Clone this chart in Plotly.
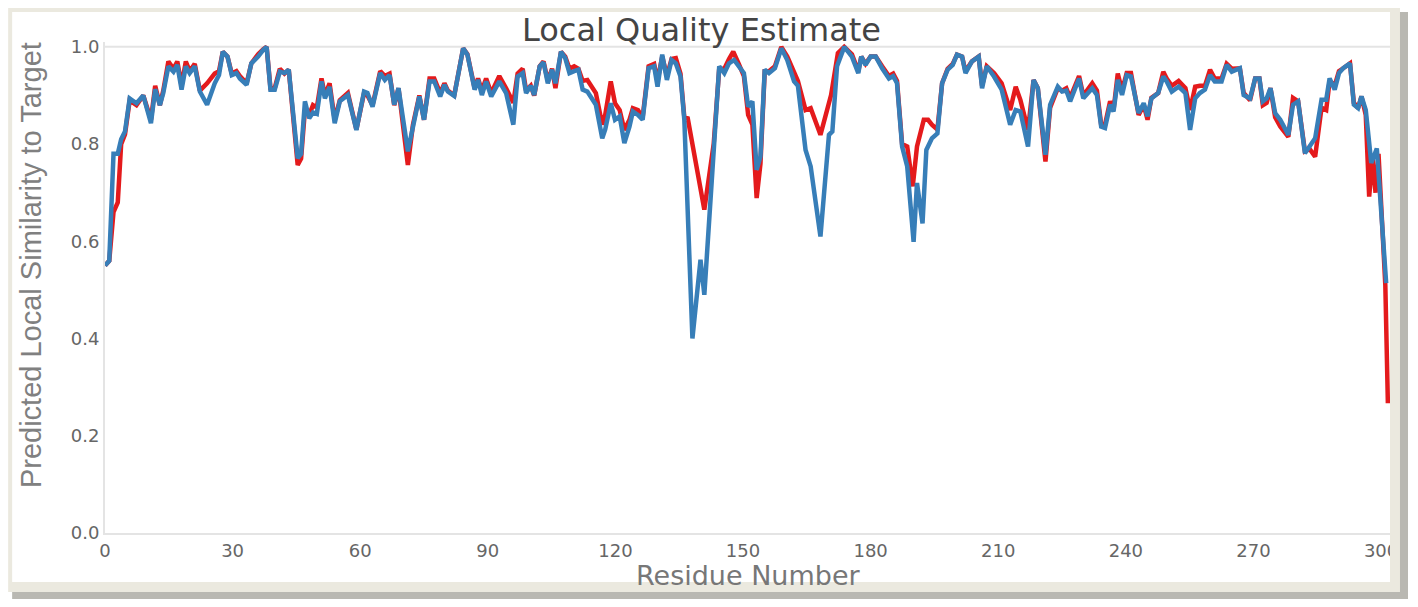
import plotly.graph_objects as go

# residue numbers / predicted local similarity
blue_res = [0, 1, 2, 3, 3.8, 4.7, 5.8, 7.4, 9.0, 10.8, 11.8, 12.9, 13.7, 14.9, 16.1, 17.0, 18.0, 19.0, 19.9, 21.1,
            22.3, 24.0, 25.8, 26.8, 27.7, 28.8, 29.8, 30.9, 31.7, 33.3, 34.4, 36.0, 37.2, 38.0, 38.9, 39.9, 41.1,
            42.2, 43.2, 45.3, 46.1, 47.0, 48.0, 48.9, 49.8, 50.9, 51.7, 52.8, 54.0, 55.2, 57.1, 59.1, 60.9, 61.7,
            62.9, 64.7, 65.8, 66.9, 68.0, 69.0, 71.2, 72.4, 73.9, 75.0, 76.3, 77.4, 78.8, 79.8, 80.6, 82.1, 84.2,
            85.2, 86.9, 87.7, 88.6, 89.6, 90.8, 92.7, 94.3, 96.0, 97.0, 98.2, 99.0, 100.1, 100.9, 102.2, 103.1,
            104.1, 105.1, 105.9, 107.2, 108.2, 109.2, 110.3, 111.3, 112.3, 113.4, 115.4, 116.9, 117.6, 118.9,
            119.9, 121.0, 122.1, 123.3, 124.1, 125.3, 126.4, 127.8, 129.1, 129.9, 131.0, 132.1, 133.2, 134.2,
            135.3, 136.2, 138.1, 140.0, 140.9, 144.4, 145.6, 146.7, 147.9, 149.0, 150.2, 151.2, 152.2, 153.2,
            154.1, 155.1, 156.1, 157.5, 159.0, 160.4, 162.0, 162.9, 164.7, 165.9, 168.2, 170.2, 171.0, 172.1,
            173.8, 175.6, 177.1, 177.8, 178.8, 180.0, 181.2, 182.7, 184.3, 185.3, 186.2, 187.4, 188.6, 190.1,
            190.9, 192.2, 193.1, 194.4, 195.7, 196.8, 198.1, 199.3, 200.3, 201.5, 202.3, 203.8, 205.4, 206.2,
            207.3, 209.0, 210.8, 212.8, 214.1, 215.2, 217.0, 218.3, 219.3, 221.1, 222.2, 224.0, 225.0, 226.0,
            226.9, 229.0, 230.0, 232.1, 233.2, 234.2, 235.1, 236.3, 237.1, 238.1, 239.1, 240.2, 241.2, 243.0,
            244.2, 245.1, 246.0, 247.6, 248.8, 249.6, 250.8, 252.4, 254.0, 255.1, 256.3, 257.4, 258.6, 259.8,
            260.9, 262.5, 263.7, 264.9, 266.8, 267.7, 269.2, 270.4, 271.4, 272.2, 273.1, 274.0, 275.1, 276.3,
            278.2, 279.3, 280.5, 282.1, 283.2, 284.5, 286.0, 287.1, 287.9, 289.1, 290.1, 291.1, 292.7, 293.6,
            294.6, 295.4, 296.4, 297.7, 299.0, 301.2]
blue_sim = [0.55, 0.56, 0.78, 0.78, 0.81, 0.826, 0.894, 0.884, 0.90, 0.843, 0.913, 0.88, 0.905, 0.96, 0.949,
            0.963, 0.912, 0.96, 0.946, 0.96, 0.908, 0.881, 0.925, 0.942, 0.99, 0.98, 0.942, 0.946, 0.935, 0.922,
            0.966, 0.98, 0.994, 1.0, 0.912, 0.912, 0.949, 0.946, 0.953, 0.771, 0.78, 0.888, 0.853, 0.865, 0.862,
            0.929, 0.894, 0.918, 0.843, 0.888, 0.901, 0.829, 0.908, 0.905, 0.877, 0.946, 0.932, 0.942, 0.881,
            0.915, 0.785, 0.84, 0.898, 0.85, 0.929, 0.929, 0.898, 0.922, 0.908, 0.899, 0.997, 0.984, 0.912,
            0.932, 0.901, 0.929, 0.898, 0.929, 0.905, 0.84, 0.939, 0.946, 0.905, 0.92, 0.901, 0.96, 0.968,
            0.925, 0.953, 0.925, 0.99, 0.977, 0.946, 0.95, 0.953, 0.912, 0.908, 0.881, 0.812, 0.83, 0.884,
            0.85, 0.857, 0.802, 0.836, 0.867, 0.86, 0.85, 0.956, 0.96, 0.918, 0.984, 0.932, 0.973, 0.966,
            0.939, 0.85, 0.40, 0.562, 0.49, 0.96, 0.946, 0.966, 0.973, 0.96, 0.946, 0.877, 0.888, 0.747,
            0.774, 0.953, 0.946, 0.956, 0.997, 0.973, 0.929, 0.92, 0.788, 0.754, 0.61, 0.819, 0.826, 0.96,
            1.0, 0.98, 0.946, 0.98, 0.963, 0.98, 0.98, 0.956, 0.935, 0.94, 0.925, 0.795, 0.754, 0.599,
            0.72, 0.637, 0.788, 0.812, 0.822, 0.925, 0.953, 0.963, 0.984, 0.98, 0.946, 0.97, 0.98, 0.915,
            0.96, 0.939, 0.912, 0.84, 0.87, 0.867, 0.795, 0.932, 0.915, 0.778, 0.881, 0.918, 0.908, 0.91,
            0.888, 0.935, 0.894, 0.915, 0.901, 0.836, 0.833, 0.881, 0.867, 0.932, 0.901, 0.942, 0.939, 0.864,
            0.884, 0.857, 0.894, 0.905, 0.939, 0.929, 0.908, 0.918, 0.905, 0.829, 0.894, 0.905, 0.912, 0.942,
            0.929, 0.929, 0.963, 0.949, 0.956, 0.901, 0.894, 0.935, 0.935, 0.888, 0.894, 0.915, 0.864, 0.85,
            0.819, 0.881, 0.888, 0.781, 0.795, 0.812, 0.891, 0.891, 0.935, 0.912, 0.946, 0.956, 0.966, 0.881,
            0.874, 0.898, 0.87, 0.761, 0.791, 0.514]

red_res = [0, 1, 2, 3, 3.8, 4.7, 5.8, 7.4, 9.0, 10.8, 11.8, 12.9, 13.7, 14.9, 16.1, 17.0, 18.0, 19.0, 19.9, 21.1,
           22.3, 24.0, 25.8, 26.8, 27.7, 28.8, 29.8, 30.9, 31.7, 33.3, 34.4, 36.0, 37.2, 38.0, 38.9, 39.9, 41.1,
           42.2, 43.2, 45.3, 46.1, 47.0, 48.0, 48.9, 49.8, 50.9, 51.7, 52.8, 54.0, 55.2, 57.1, 59.1, 60.9, 61.7,
           62.9, 64.7, 65.8, 66.9, 68.0, 69.0, 71.2, 72.4, 73.9, 75.0, 76.3, 77.4, 78.8, 79.8, 80.6, 82.1, 84.2,
           85.2, 86.9, 87.7, 88.6, 89.6, 90.8, 92.7, 94.3, 96.0, 97.0, 98.2, 99.0, 100.1, 100.9, 102.2, 103.1,
           104.1, 105.1, 105.9, 107.2, 108.2, 109.2, 110.3, 111.3, 112.3, 113.4, 115.4, 116.9, 117.6, 118.9,
           119.9, 121.0, 122.1, 123.3, 124.1, 125.3, 126.4, 127.8, 129.1, 129.9, 131.0, 132.1, 133.2, 134.2,
           135.3, 136.2, 137.0, 140.9, 143.1, 144.4, 145.6, 146.7, 147.7, 149.0, 150.2, 151.2, 152.2, 153.2,
           154.1, 155.1, 156.1, 157.5, 159.0, 160.4, 162.0, 162.9, 164.7, 165.9, 168.2, 170.7, 172.3, 173.8,
           175.6, 177.1, 177.8, 178.8, 180.0, 181.2, 182.7, 184.3, 185.3, 186.2, 187.4, 188.6, 189.9, 190.9,
           192.5, 193.5, 194.4, 195.7, 196.8, 198.1, 199.3, 200.3, 201.5, 202.3, 203.8, 205.4, 206.2, 207.3,
           209.0, 210.8, 212.8, 214.1, 215.2, 217.0, 218.3, 219.3, 221.1, 222.2, 224.0, 225.0, 226.0, 226.9,
           229.0, 230.0, 232.1, 233.2, 234.2, 235.1, 236.3, 237.1, 238.1, 239.1, 240.2, 241.2, 243.0, 244.2,
           245.1, 246.0, 247.6, 248.8, 249.6, 250.8, 252.4, 254.0, 255.1, 256.3, 257.4, 258.6, 259.8, 260.9,
           262.5, 263.7, 264.9, 266.8, 267.7, 269.2, 270.4, 271.4, 272.2, 273.1, 274.0, 275.1, 276.3, 278.2,
           279.3, 280.5, 282.1, 283.2, 284.5, 286.0, 287.1, 287.9, 289.1, 290.1, 291.1, 292.7, 293.6, 294.6,
           295.4, 296.4, 297.2, 298.0, 298.7, 299.4, 301.0, 301.6]
red_sim = [0.55, 0.56, 0.66, 0.68, 0.80, 0.82, 0.89, 0.88, 0.90, 0.85, 0.92, 0.88, 0.91, 0.97, 0.955, 0.97,
           0.92, 0.97, 0.95, 0.965, 0.91, 0.925, 0.945, 0.95, 0.99, 0.98, 0.945, 0.95, 0.94, 0.925, 0.966, 0.985,
           0.995, 1.0, 0.915, 0.915, 0.955, 0.945, 0.953, 0.757, 0.77, 0.87, 0.86, 0.88, 0.875, 0.935, 0.90,
           0.925, 0.85, 0.89, 0.905, 0.83, 0.905, 0.90, 0.88, 0.95, 0.94, 0.945, 0.88, 0.915, 0.757, 0.84, 0.90,
           0.85, 0.935, 0.935, 0.905, 0.925, 0.91, 0.90, 0.997, 0.985, 0.915, 0.935, 0.91, 0.935, 0.905, 0.94,
           0.915, 0.885, 0.945, 0.955, 0.91, 0.92, 0.90, 0.96, 0.97, 0.93, 0.955, 0.915, 0.99, 0.98, 0.955,
           0.96, 0.955, 0.93, 0.932, 0.905, 0.84, 0.86, 0.929, 0.884, 0.87, 0.829, 0.85, 0.874, 0.87, 0.855,
           0.96, 0.965, 0.93, 0.98, 0.94, 0.975, 0.977, 0.945, 0.855, 0.853, 0.665, 0.80, 0.955, 0.955, 0.975,
           0.99, 0.965, 0.94, 0.86, 0.84, 0.689, 0.76, 0.95, 0.95, 0.96, 1.0, 0.98, 0.946, 0.93, 0.87, 0.874,
           0.819, 0.901, 0.987, 1.0, 0.985, 0.95, 0.98, 0.965, 0.98, 0.98, 0.96, 0.94, 0.945, 0.93, 0.80,
           0.795, 0.713, 0.795, 0.85, 0.85, 0.84, 0.83, 0.925, 0.955, 0.965, 0.984, 0.98, 0.95, 0.97, 0.98,
           0.92, 0.96, 0.946, 0.925, 0.87, 0.918, 0.891, 0.829, 0.932, 0.915, 0.764, 0.875, 0.915, 0.91, 0.915,
           0.895, 0.94, 0.90, 0.925, 0.91, 0.84, 0.84, 0.888, 0.87, 0.945, 0.91, 0.946, 0.946, 0.86, 0.88,
           0.85, 0.895, 0.905, 0.949, 0.935, 0.92, 0.93, 0.915, 0.87, 0.918, 0.92, 0.92, 0.953, 0.935, 0.935,
           0.965, 0.955, 0.956, 0.905, 0.89, 0.935, 0.935, 0.88, 0.885, 0.915, 0.855, 0.836, 0.815, 0.895,
           0.888, 0.785, 0.79, 0.774, 0.875, 0.87, 0.93, 0.92, 0.95, 0.956, 0.966, 0.885, 0.874, 0.898, 0.86,
           0.692, 0.77, 0.70, 0.78, 0.51, 0.267]

x_ticks = [0, 30, 60, 90, 120, 150, 180, 210, 240, 270, 300]
y_ticks = [0.0, 0.2, 0.4, 0.6, 0.8, 1.0]

RED = "#e41a1c"
BLUE = "#377eb8"
BEIGE = "#ebe9df"
SHADOW = "#b9b8b2"

# the page body has an 8px margin, so the figure starts at (8, 8) in the window
OFF = 8
W, H = 1418 - 2 * OFF, 607 - 2 * OFF
# plot area in window pixels: x 105..1392, y 42..533
L, R, T, B = 105, 1392, 42, 533


def px(x):
    return (x - L) / (R - L)


def py(y):
    return (B - y) / (B - T)


def rect(x0, y0, x1, y1, color, layer="below"):
    return dict(type="rect", xref="paper", yref="paper",
                x0=px(x0), x1=px(x1), y0=py(y1), y1=py(y0),
                fillcolor=color, line=dict(width=0), layer=layer)


fig = go.Figure()
fig.add_trace(go.Scatter(x=red_res, y=red_sim, mode="lines", name="Model 1",
                         line=dict(color=RED, width=4.5)))
fig.add_trace(go.Scatter(x=blue_res, y=blue_sim, mode="lines", name="Model 2",
                         line=dict(color=BLUE, width=4.5)))

shapes = [
    # drop shadow, beige frame, white panel
    rect(12, 12, 1410, 600, SHADOW),
    rect(OFF, OFF, 1402, 592, BEIGE),
    rect(12, 12, 1392, 582, "white"),
    # top line at 1.0
    dict(type="line", xref="x", yref="y", x0=0, x1=302.1, y0=1.0, y1=1.0,
         line=dict(color="#e4e4e4", width=2), layer="below"),
    # right frame strip hides the end of the last tick label
    rect(1392, OFF, 1402, 592, BEIGE, layer="above"),
    rect(1402, 12, 1410, 600, SHADOW, layer="above"),
]

annotations = [
    dict(text="Local Quality Estimate", xref="paper", yref="paper", x=px(702), y=py(9),
         xanchor="center", yanchor="top", showarrow=False,
         font=dict(family="DejaVu Sans", size=32, color="#444444")),
    dict(text="Residue Number", xref="paper", yref="paper", x=px(750), y=py(575),
         xanchor="center", yanchor="middle", showarrow=False,
         font=dict(family="DejaVu Sans", size=27, color="#777777")),
    dict(text="Predicted Local Similarity to Target", xref="paper", yref="paper", x=px(31), y=py(265),
         xanchor="center", yanchor="middle", showarrow=False, textangle=-90,
         font=dict(family="Liberation Sans", size=29, color="#808080")),
]

fig.update_layout(
    width=W, height=H,
    margin=dict(l=L - OFF, r=W + OFF - R, t=T - OFF, b=H + OFF - B, pad=0),
    paper_bgcolor="white",
    plot_bgcolor="white",
    showlegend=False,
    shapes=shapes,
    annotations=annotations,
    xaxis=dict(range=[0, 302.1], tickvals=x_ticks, showgrid=False, zeroline=False,
               showline=True, linecolor="#e4e4e4", linewidth=2, ticks="",
               tickfont=dict(family="DejaVu Sans", size=18, color="#666666")),
    yaxis=dict(range=[0, 1.01], tickvals=y_ticks, tickformat=".1f", showgrid=False, zeroline=False,
               showline=True, linecolor="#e4e4e4", linewidth=2, ticks="",
               tickfont=dict(family="DejaVu Sans", size=18, color="#666666")),
)

fig.write_html("out.html")
